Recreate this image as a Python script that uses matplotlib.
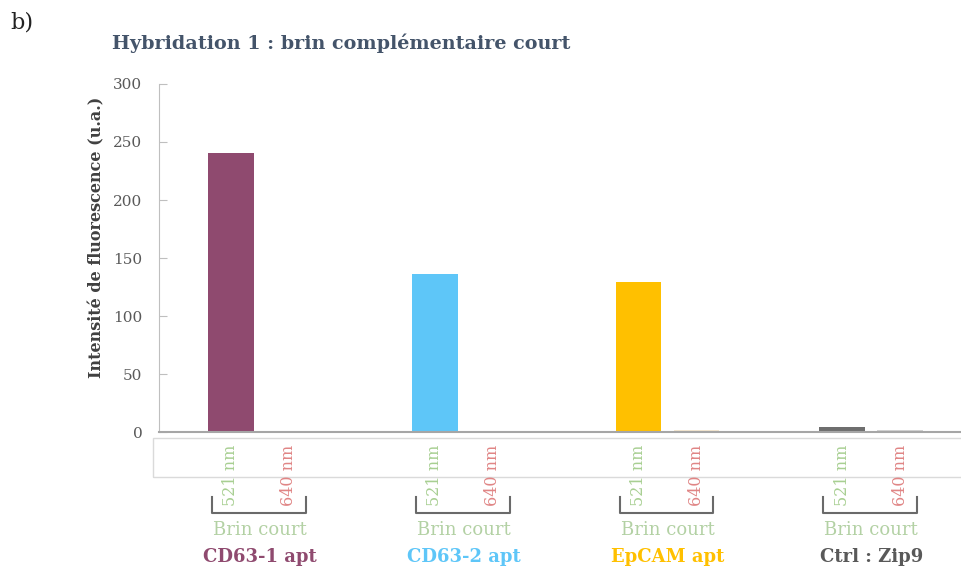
import numpy as np
from matplotlib import pyplot as plt
from matplotlib.patches import Rectangle

plt.rcParams['font.family'] = 'DejaVu Serif'

groups = ['CD63-1 apt', 'CD63-2 apt', 'EpCAM apt', 'Ctrl : Zip9']
group_colors = ['#8f4a6f', '#5ec6f8', '#ffc000', '#6e6e6e']
pale_colors = ['#e9e0e4', '#e2eef4', '#f4e6cf', '#d2d2d2']
wavelengths = ['521 nm', '640 nm']
wl_colors = ['#a8cf92', '#e08585']
strand = 'Brin court'
val_521 = [240.5, 136, 129, 4.5]
val_640 = [1, 1, 2, 2]

fig = plt.figure(figsize=(9.62, 5.74), dpi=100)
ax = fig.add_axes([159/962, 142/574, 803/962, 348/574])

x = np.arange(len(groups))
off = 0.142
w = 0.225
ax.bar(x - off, val_521, w, color=group_colors)
ax.bar(x + off, val_640, w, color=pale_colors)

ax.set_xlim(-0.495, 3.445)
ax.set_ylim(0, 300)
ax.set_yticks(range(0, 301, 50))
ax.tick_params(axis='y', direction='in', length=6, color='#bfbfbf', labelsize=11,
               labelcolor='#595959', pad=12)
for s in ['top', 'right']:
    ax.spines[s].set_visible(False)
ax.spines['left'].set_color('#bfbfbf')
ax.spines['bottom'].set_color('#a6a6a6')
ax.spines['bottom'].set_linewidth(1.5)
ax.set_ylabel('Intensité de fluorescence (u.a.)', fontsize=11.5, fontweight='bold',
              color='#404040')
ax.yaxis.set_label_coords(-0.067, 0.56)

# wavelength labels
ticks = np.ravel(np.column_stack([x - off, x + off]))
ax.set_xticks(ticks)
ax.set_xticklabels(wavelengths * len(groups), rotation=90, fontsize=11.5)
for i, lab in enumerate(ax.get_xticklabels()):
    lab.set_color(wl_colors[i % 2])
ax.tick_params(axis='x', length=0, pad=9)

tr = ax.get_xaxis_transform()
# box under the axis
ax.add_patch(Rectangle((-0.525, -0.129), 4.0, 0.112, transform=tr, fill=False,
                       edgecolor='#dadada', linewidth=1, clip_on=False))

for g in x:
    ax.plot([g - 0.235, g - 0.235, g + 0.225, g + 0.225], [-0.187, -0.233, -0.233, -0.187],
            transform=tr, color='#6a6a6a', linewidth=1.5, clip_on=False)
    ax.text(g, -0.283, strand, transform=tr, ha='center', va='center', fontsize=13,
            color='#b3d1a4')
    ax.text(g, -0.36, groups[g], transform=tr, ha='center', va='center', fontsize=13,
            fontweight='bold', color=group_colors[g] if g < 3 else '#595959')

fig.text(112/962, 1 - 43/574, 'Hybridation 1 : brin complémentaire court', fontsize=13.8,
         fontweight='bold', color='#44546a', va='center')
fig.text(10/962, 1 - 22/574, 'b)', fontsize=16, color='#222222', va='center')

fig.savefig('out.png', dpi=100)
